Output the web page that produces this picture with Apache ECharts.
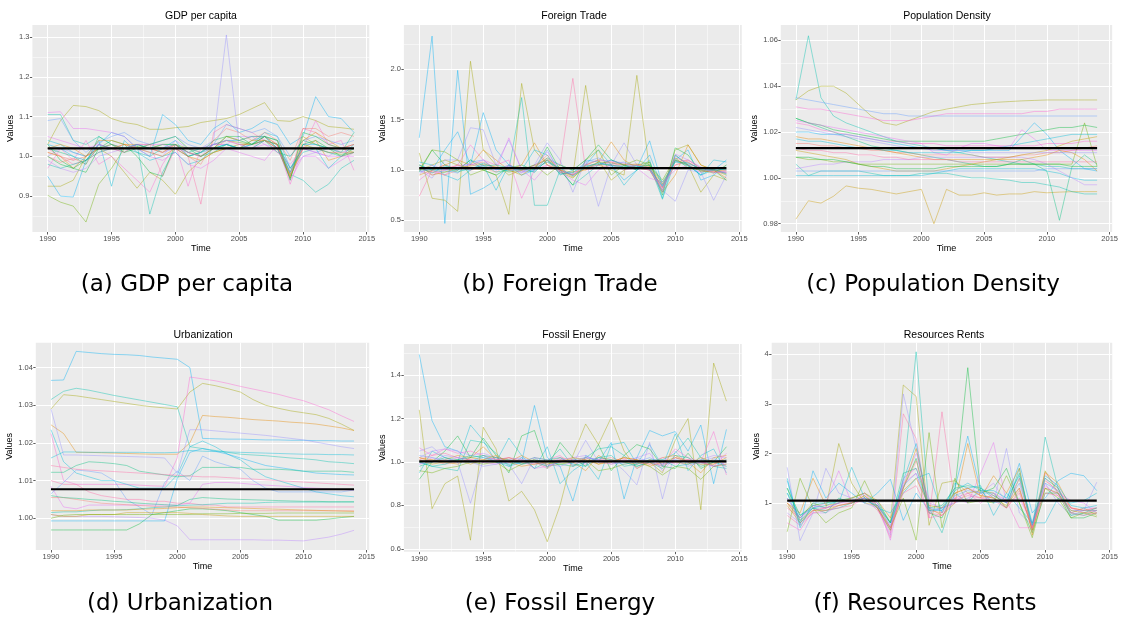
<!DOCTYPE html>
<html><head><meta charset="utf-8">
<script src="https://cdn.jsdelivr.net/npm/echarts@6/dist/echarts.min.js"></script>
<style>html,body{margin:0;padding:0;background:#fff}#c{width:1121px;height:617px}</style>
</head><body><div id="c"></div>
<script>
// ---------- shared ----------
const years = [1990,1991,1992,1993,1994,1995,1996,1997,1998,1999,2000,2001,2002,2003,2004,2005,2006,2007,2008,2009,2010,2011,2012,2013,2014];
const xTicks = [1990,1995,2000,2005,2010,2015];

// ---------- (a) GDP per capita ----------
const gdpTicks = [0.9,1.0,1.1,1.2,1.3];
const gdpMean = 1.02;
const gdp1 = [1.03,1.09,1.128,1.125,1.115,1.095,1.085,1.08,1.068,1.068,1.072,1.075,1.085,1.09,1.095,1.105,1.12,1.135,1.09,1.088,1.10,1.09,1.075,1.072,1.068];
const gdp2 = [0.902,0.885,0.875,0.835,0.93,0.97,1.02,1.025,1.02,1.03,1.03,1.02,1.01,1.03,1.04,1.035,1.03,1.04,1.02,0.955,1.03,1.02,1.01,1.005,1.01];
const gdp3 = [0.925,0.925,0.94,1.0,1.02,1.0,0.96,0.92,0.96,0.94,0.905,0.96,0.99,1.01,1.02,1.03,1.03,1.04,1.03,0.96,1.05,1.03,1.02,1.02,1.01];
const gdp4 = [1.0,1.02,1.01,1.0,1.03,1.02,1.01,1.03,1.02,1.01,1.02,1.02,1.02,1.04,1.305,1.03,1.02,1.04,1.03,0.97,1.02,1.01,1.02,1.01,1.02];
const gdp5 = [0.95,0.90,0.898,0.99,1.03,1.06,1.05,1.02,1.0,1.105,1.08,1.04,1.03,1.07,1.09,1.06,1.07,1.09,1.08,1.03,1.05,1.15,1.10,1.095,1.06];
const gdp6 = [1.105,1.105,1.04,1.03,1.05,1.03,1.02,1.03,0.855,0.96,1.02,1.0,1.01,1.02,1.03,1.02,1.04,1.05,1.04,0.955,0.94,0.91,0.93,0.97,0.99];
const gdp7 = [0.97,1.02,0.99,1.04,0.98,1.0,0.97,0.94,0.91,0.98,1.03,0.925,1.02,1.03,1.03,1.02,1.02,1.05,1.03,0.93,1.02,1.09,1.03,1.04,0.965];
const gdp8 = [1.02,1.0,0.98,0.99,1.01,1.02,1.03,1.02,1.03,0.95,1.02,1.0,0.88,1.06,1.08,1.07,1.06,1.04,1.02,0.95,1.07,1.06,1.03,1.02,1.03];
const gdp9 = [1.11,1.112,1.07,1.07,1.065,1.06,1.05,1.02,1.0,0.99,1.01,0.98,0.97,0.99,1.02,1.01,1.0,0.99,1.03,0.94,1.0,1.0,0.97,0.99,1.01];
const gdp10 = [1.03,0.99,0.97,0.96,1.02,1.04,1.03,1.0,0.96,0.95,1.03,1.0,1.01,1.04,1.05,1.04,1.03,1.05,1.02,0.945,1.03,1.04,1.02,1.0,1.02];
const gdp11 = [1.04,1.03,1.01,1.0,1.04,0.925,1.04,1.01,0.99,1.0,1.01,0.98,0.99,1.02,1.03,1.02,1.03,1.06,1.05,0.97,1.02,1.02,0.97,1.0,1.03];
const gdp12 = [1.01,1.0,0.97,1.0,1.02,1.02,1.03,1.03,1.02,1.01,1.03,1.01,1.0,1.02,1.05,1.04,1.05,1.05,1.03,0.95,1.02,1.04,0.99,1.0,1.01];
const gdp13 = [0.99,0.97,0.96,0.97,1.0,1.01,1.02,1.02,1.01,1.0,1.04,1.02,1.01,1.03,1.03,1.05,1.05,1.03,1.02,0.96,1.0,1.01,1.0,1.02,1.03];
const gdp14 = [1.09,1.095,1.04,1.01,1.035,1.05,1.06,1.04,1.03,1.04,1.05,1.03,1.02,1.03,1.08,1.07,1.06,1.07,1.05,1.00,1.04,1.05,1.04,1.03,1.04];
const gdp15 = [1.0,0.985,0.995,0.98,1.03,1.02,1.01,1.03,1.03,1.02,1.03,1.0,0.98,1.04,1.07,1.06,1.04,1.06,1.04,0.99,1.07,1.07,1.05,1.06,1.05];
const gdp16 = [1.02,1.01,1.0,0.98,1.05,1.03,1.02,1.03,1.02,1.03,1.03,1.01,1.0,1.01,1.03,1.02,1.02,1.04,1.01,1.0,1.04,1.03,1.02,1.01,1.06];
const gdp17 = [1.01,1.0,0.99,1.0,1.02,1.03,1.02,1.02,1.02,1.01,1.03,1.01,1.0,1.02,1.04,1.03,1.03,1.04,1.02,0.95,1.02,1.02,1.01,1.01,1.01];
const gdp18 = [1.03,1.02,1.0,0.99,1.03,1.02,1.02,1.03,1.02,1.02,1.04,1.0,1.01,1.03,1.04,1.04,1.05,1.05,1.02,0.96,1.03,1.03,1.02,1.02,1.02];
const gdp19 = [0.98,0.97,0.98,0.99,1.01,1.02,1.02,1.01,1.0,1.02,1.03,1.01,1.02,1.02,1.03,1.02,1.03,1.04,1.03,0.97,1.01,1.02,1.01,1.0,1.01];
const gdp20 = [1.02,1.03,1.02,1.0,1.04,1.04,1.03,1.02,1.01,1.0,1.02,1.0,0.99,1.01,1.02,1.02,1.04,1.04,1.03,0.945,1.04,1.06,1.04,1.02,1.03];
const gdp21 = [1.05,1.04,1.03,1.02,1.03,1.02,1.02,1.03,1.03,1.03,1.02,1.01,1.0,1.03,1.04,1.03,1.02,1.03,1.01,0.98,1.02,1.01,1.0,1.0,1.0];
const gdp22 = [1.0,0.98,0.97,0.99,1.02,1.03,1.01,1.02,1.03,1.04,1.05,1.02,1.0,1.02,1.05,1.05,1.03,1.05,1.04,0.94,1.06,1.05,1.03,1.02,1.02];

// ---------- (b) Foreign Trade ----------
const tradeTicks = [0.5,1.0,1.5,2.0];
const tradeMean = 1.02;
const tr1 = [1.32,2.33,0.47,1.99,0.76,0.82,0.90,1.05,1.00,0.98,1.10,1.00,0.95,1.02,1.05,1.10,1.05,1.02,1.29,0.85,1.10,1.05,0.95,1.00,1.10];
const tr2 = [1.17,0.72,0.70,0.59,2.08,1.20,1.05,0.95,1.00,1.05,1.10,1.00,0.95,1.84,1.05,1.00,0.95,1.94,1.00,0.80,1.15,1.05,0.78,0.95,0.90];
const tr3 = [1.00,1.05,1.10,1.05,1.02,1.00,0.95,0.56,1.86,1.20,1.05,0.98,0.92,1.05,1.10,0.90,1.00,1.05,1.08,0.78,1.20,1.25,1.05,1.00,0.95];
const tr4 = [1.05,1.00,0.98,1.00,1.10,1.05,0.98,1.00,1.72,0.65,0.65,1.00,0.85,0.95,1.05,1.10,1.05,1.00,1.05,0.71,1.10,1.05,0.95,1.02,1.00];
const tr5 = [0.74,1.00,1.05,1.02,1.00,1.05,1.02,1.00,0.98,1.05,1.10,1.05,1.91,1.00,1.02,1.05,1.05,1.02,1.00,0.85,1.05,1.08,1.00,0.98,0.97];
const tr6 = [1.05,1.00,1.20,1.38,1.05,1.57,1.20,1.05,0.95,1.00,1.12,1.05,1.00,1.10,1.08,1.05,0.90,1.00,1.15,0.83,1.10,1.20,0.90,0.95,1.05];
const tr7 = [1.00,0.92,1.10,1.10,1.42,1.40,1.05,1.30,1.00,1.05,1.27,1.10,0.78,1.10,0.64,1.05,1.27,1.05,1.00,0.80,0.69,1.00,0.98,0.70,0.95];
const tr8 = [0.98,1.20,1.05,1.00,1.10,1.00,0.95,1.02,1.05,1.00,1.23,1.00,0.85,1.10,1.25,1.10,1.05,1.00,1.08,0.75,1.22,1.15,0.98,1.00,0.90];
const tr9 = [0.90,1.00,0.95,1.05,1.25,1.10,1.05,1.10,0.72,1.00,1.05,1.00,0.95,1.05,1.05,1.08,1.02,1.05,1.00,0.82,1.08,1.10,1.02,0.98,1.00];
const tr10 = [0.95,1.00,1.05,1.10,1.05,1.20,1.10,1.00,1.05,1.27,1.05,1.00,0.98,1.00,1.08,1.28,1.10,1.02,1.00,0.78,0.95,1.25,1.05,1.00,0.92];
const tr11 = [1.08,1.05,0.95,0.90,1.00,1.05,0.80,1.05,1.00,1.20,1.15,0.95,1.00,1.05,1.20,1.05,0.85,1.00,1.10,0.72,1.15,1.05,0.95,1.10,1.08];
const tr12 = [1.00,0.95,1.00,1.05,1.05,1.10,1.00,1.32,1.00,0.90,1.05,0.98,0.90,0.85,1.00,1.05,1.00,1.02,0.92,0.88,1.00,1.05,0.98,1.00,0.97];
const tr13 = [1.02,0.98,1.00,1.05,1.00,1.02,0.98,1.05,1.00,1.02,1.08,1.00,0.95,1.02,1.05,1.05,1.02,1.05,1.02,0.83,1.05,1.10,1.02,1.00,0.98];
const tr14 = [1.00,1.20,1.18,1.10,0.95,1.00,1.02,0.98,1.00,1.05,0.95,1.05,1.00,1.10,1.20,0.95,1.05,1.10,1.05,0.90,1.12,1.02,1.00,0.97,1.05];
const tr15 = [1.02,0.98,0.95,1.00,1.05,1.08,1.02,1.03,1.00,1.02,1.15,0.98,0.95,1.05,1.10,1.08,1.06,1.05,1.03,0.82,1.12,1.08,1.00,0.98,0.98];
const tr16 = [0.98,1.02,1.00,0.97,1.08,1.10,1.00,1.05,0.98,1.00,1.20,0.97,0.97,1.08,1.12,1.06,1.08,1.04,1.02,0.78,1.14,1.06,1.02,1.00,0.97];
const tr17 = [1.05,0.95,0.98,1.02,1.04,1.06,1.03,1.00,0.95,1.03,1.12,1.00,0.93,1.02,1.08,1.07,1.05,1.06,1.04,0.86,1.10,1.05,0.99,0.99,1.00];
const tr18 = [1.00,1.00,1.02,0.98,1.02,1.04,1.05,1.02,1.02,0.98,1.10,0.96,0.98,1.04,1.06,1.05,1.03,1.03,1.05,0.88,1.08,1.07,1.01,1.01,0.96];
const tr19 = [0.96,1.05,1.00,1.03,1.06,1.03,1.00,1.04,0.97,1.04,1.18,0.99,0.96,1.06,1.10,1.09,1.07,1.02,1.00,0.80,1.16,1.10,1.03,0.97,0.99];
const tr20 = [1.03,0.97,1.04,1.00,1.00,1.07,1.01,0.99,1.01,1.01,1.08,1.02,0.94,1.03,1.07,1.04,1.04,1.04,1.01,0.84,1.09,1.04,1.00,1.00,1.01];

// ---------- (c) Population Density ----------
const popTicks = [0.98,1.00,1.02,1.04,1.06];
const popMean = 1.013;
const pop1 = [1.034,1.062,1.035,1.027,1.024,1.022,1.020,1.018,1.016,1.015,1.014,1.013,1.012,1.011,1.010,1.009,1.008,1.007,1.006,1.006,1.005,1.005,1.004,1.004,1.004];
const pop2 = [1.034,1.038,1.040,1.040,1.037,1.032,1.027,1.024,1.023,1.025,1.027,1.029,1.030,1.031,1.032,1.0325,1.033,1.0333,1.0336,1.0338,1.034,1.034,1.034,1.034,1.034];
const pop3 = [0.982,0.990,0.989,0.992,0.9965,0.9955,0.995,0.994,0.993,0.994,0.995,0.980,0.995,0.9925,0.9925,0.9935,0.9925,0.993,0.993,0.994,0.9935,0.9938,0.994,0.994,0.994];
const pop4 = [1.026,1.024,1.022,1.020,1.018,1.016,1.014,1.013,1.012,1.011,1.010,1.009,1.008,1.007,1.006,1.005,1.005,1.006,1.008,1.006,1.003,0.9815,1.005,1.010,1.006];
const pop5 = [1.009,1.008,1.008,1.007,1.007,1.006,1.006,1.006,1.006,1.006,1.006,1.006,1.006,1.006,1.006,1.006,1.006,1.006,1.006,1.006,1.006,1.006,1.006,1.024,1.005];
const pop6 = [1.020,1.020,1.019,1.019,1.019,1.018,1.017,1.016,1.015,1.014,1.013,1.013,1.012,1.012,1.012,1.012,1.012,1.012,1.018,1.024,1.019,1.012,1.008,1.004,1.003];
const pop7 = [1.031,1.030,1.030,1.029,1.028,1.027,1.026,1.025,1.025,1.025,1.026,1.027,1.028,1.028,1.028,1.028,1.028,1.028,1.028,1.029,1.029,1.030,1.030,1.030,1.030];
const pop8 = [1.035,1.034,1.033,1.032,1.031,1.030,1.029,1.028,1.028,1.027,1.027,1.027,1.027,1.027,1.027,1.027,1.027,1.027,1.027,1.027,1.027,1.027,1.027,1.027,1.027];
const pop9 = [1.026,1.024,1.023,1.021,1.020,1.019,1.018,1.017,1.016,1.016,1.016,1.016,1.016,1.016,1.016,1.016,1.017,1.018,1.019,1.020,1.021,1.022,1.022,1.023,1.022];
const pop10 = [1.015,1.015,1.014,1.014,1.013,1.013,1.012,1.012,1.011,1.011,1.010,1.010,1.010,1.010,1.010,1.009,1.009,1.009,1.010,1.010,1.011,1.011,1.012,1.013,1.014];
const pop11 = [1.025,1.024,1.023,1.022,1.021,1.020,1.019,1.018,1.017,1.016,1.015,1.011,1.010,1.013,1.015,1.015,1.014,1.013,1.021,1.017,1.012,1.012,1.012,1.012,1.012];
const pop12 = [1.018,1.017,1.017,1.016,1.015,1.014,1.013,1.012,1.011,1.010,1.009,1.008,1.008,1.008,1.008,1.008,1.008,1.008,1.008,1.009,1.010,1.012,1.011,1.008,1.003];
const pop13 = [1.006,1.001,1.003,1.003,1.003,1.003,1.002,1.001,1.001,1.001,1.002,1.002,1.002,1.001,1.000,1.000,0.9995,0.999,0.998,0.998,0.997,0.996,0.994,0.993,0.993];
const pop14 = [1.001,1.001,1.001,1.001,1.001,1.001,1.001,1.001,1.001,1.001,1.001,1.002,1.003,1.004,1.004,1.004,1.004,1.004,1.004,1.004,1.003,1.002,1.000,0.999,0.999];
const pop15 = [1.004,1.005,1.006,1.006,1.007,1.007,1.007,1.008,1.008,1.008,1.009,1.009,1.009,1.009,1.009,1.009,1.009,1.009,1.009,1.008,1.006,1.003,1.000,0.997,0.997];
const pop16 = [1.012,1.011,1.010,1.009,1.008,1.006,1.005,1.004,1.003,1.003,1.003,1.003,1.004,1.005,1.006,1.007,1.008,1.009,1.010,1.011,1.012,1.014,1.016,1.017,1.018];
const pop17 = [1.022,1.021,1.020,1.019,1.018,1.017,1.016,1.015,1.014,1.013,1.013,1.012,1.012,1.012,1.011,1.011,1.011,1.011,1.011,1.011,1.011,1.011,1.011,1.011,1.011];
const pop18 = [1.013,1.012,1.012,1.011,1.011,1.010,1.010,1.009,1.009,1.008,1.008,1.008,1.008,1.007,1.007,1.007,1.007,1.007,1.007,1.007,1.007,1.007,1.007,1.007,1.007];
const pop19 = [1.003,1.003,1.003,1.003,1.003,1.003,1.003,1.003,1.003,1.003,1.003,1.003,1.003,1.003,1.003,1.003,1.003,1.003,1.003,1.003,1.004,1.004,1.004,1.004,1.004];
const pop20 = [1.009,1.009,1.008,1.008,1.007,1.006,1.005,1.005,1.004,1.004,1.004,1.004,1.005,1.005,1.005,1.005,1.005,1.006,1.006,1.006,1.006,1.006,1.005,1.005,1.005];
const pop21 = [1.017,1.016,1.016,1.015,1.014,1.013,1.013,1.012,1.012,1.011,1.011,1.011,1.011,1.011,1.012,1.012,1.013,1.014,1.015,1.016,1.017,1.018,1.019,1.019,1.019];
const pop22 = [1.024,1.023,1.021,1.020,1.019,1.018,1.017,1.016,1.016,1.015,1.015,1.015,1.014,1.014,1.014,1.014,1.014,1.014,1.014,1.014,1.015,1.015,1.015,1.016,1.016];

// ---------- (d) Urbanization ----------
const urbTicks = [1.00,1.01,1.02,1.03,1.04];
const urbMean = 1.0077;
const urb1 = [1.0366,1.0367,1.0443,1.0440,1.0437,1.0435,1.0434,1.0432,1.0428,1.0425,1.0422,1.0400,1.0212,1.0211,1.0210,1.0210,1.0209,1.0208,1.0208,1.0207,1.0207,1.0206,1.0206,1.0205,1.0205];
const urb2 = [1.0315,1.0337,1.0345,1.0340,1.0333,1.0326,1.0320,1.0314,1.0308,1.0302,1.0296,1.0190,1.0185,1.0180,1.0175,1.0170,1.0168,1.0166,1.0163,1.0160,1.0158,1.0155,1.0150,1.0148,1.0145];
const urb3 = [1.0290,1.0328,1.0325,1.0320,1.0315,1.0310,1.0305,1.0300,1.0296,1.0293,1.0290,1.0335,1.0358,1.0352,1.0344,1.0335,1.0315,1.0300,1.0292,1.0285,1.0280,1.0275,1.0265,1.0250,1.0233];
const urb4 = [1.0225,1.0100,1.0090,1.0090,1.0090,1.0090,1.0090,1.0088,1.0086,1.0085,1.0160,1.0375,1.0370,1.0365,1.0358,1.0350,1.0343,1.0336,1.0329,1.0320,1.0312,1.0300,1.0288,1.0272,1.0257];
const urb5 = [1.0248,1.0225,1.0175,1.0175,1.0174,1.0173,1.0172,1.0171,1.0170,1.0170,1.0170,1.0200,1.0273,1.0270,1.0268,1.0265,1.0262,1.0260,1.0258,1.0255,1.0253,1.0250,1.0245,1.0240,1.0233];
const urb6 = [1.0290,1.0168,1.0168,1.0167,1.0166,1.0165,1.0164,1.0163,1.0162,1.0160,1.0120,1.0235,1.0235,1.0232,1.0229,1.0226,1.0223,1.0220,1.0216,1.0212,1.0208,1.0202,1.0196,1.0190,1.0185];
const urb7 = [1.0160,1.0176,1.0176,1.0175,1.0175,1.0175,1.0175,1.0175,1.0174,1.0174,1.0175,1.0180,1.0178,1.0177,1.0176,1.0175,1.0174,1.0173,1.0172,1.0171,1.0170,1.0170,1.0169,1.0169,1.0168];
const urb8 = [1.0235,1.0150,1.0120,1.0110,1.0100,1.0100,1.0090,1.0080,1.0080,1.0080,1.0115,1.0190,1.0205,1.0190,1.0170,1.0155,1.0130,1.0110,1.0100,1.0090,1.0080,1.0070,1.0065,1.0060,1.0057];
const urb9 = [1.0065,1.0095,1.0128,1.0125,1.0120,1.0100,1.0050,1.0030,1.0010,1.0095,1.0125,1.0100,1.0165,1.0150,1.0140,1.0130,1.0100,1.0080,1.0070,1.0070,1.0070,1.0070,1.0070,1.0070,1.0075];
const urb10 = [0.9969,0.9969,0.9969,0.9969,0.9969,0.9969,0.9969,0.9985,1.0010,1.0015,1.0020,1.0025,1.0025,1.0023,1.0020,1.0015,1.0010,1.0005,0.9995,0.9995,0.9995,0.9995,0.9998,1.0002,1.0005];
const urb11 = [1.0010,1.0005,1.0005,1.0005,1.0005,1.0004,1.0003,1.0002,1.0000,0.9995,0.9980,0.9943,0.9943,0.9943,0.9943,0.9943,0.9943,0.9942,0.9942,0.9941,0.9940,0.9945,0.9950,0.9958,0.9968];
const urb12 = [0.9993,0.9993,0.9993,0.9993,0.9993,0.9993,0.9993,0.9993,0.9993,0.9993,1.0105,1.0175,1.0185,1.0178,1.0170,1.0160,1.0150,1.0140,1.0135,1.0130,1.0125,1.0120,1.0118,1.0116,1.0115];
const urb13 = [1.0122,1.0122,1.0140,1.0150,1.0148,1.0145,1.0140,1.0125,1.0120,1.0115,1.0110,1.0113,1.0135,1.0135,1.0135,1.0135,1.0130,1.0130,1.0130,1.0128,1.0125,1.0125,1.0125,1.0125,1.0122];
const urb14 = [1.0100,1.0090,1.0090,1.0070,1.0060,1.0055,1.0050,1.0050,1.0045,1.0045,1.0040,1.0040,1.0035,1.0035,1.0030,1.0030,1.0030,1.0030,1.0030,1.0030,1.0030,1.0030,1.0030,1.0030,1.0030];
const urb15 = [1.0010,1.0005,1.0005,1.0010,1.0010,1.0010,1.0015,1.0015,1.0015,1.0015,1.0015,1.0013,1.0010,1.0008,1.0006,1.0005,1.0005,1.0005,1.0005,1.0005,1.0005,1.0005,1.0005,1.0005,1.0005];
const urb16 = [1.0085,1.0030,1.0025,1.0035,1.0035,1.0035,1.0035,1.0035,1.0035,1.0035,1.0035,1.0040,1.0090,1.0095,1.0095,1.0093,1.0090,1.0088,1.0086,1.0084,1.0082,1.0080,1.0078,1.0076,1.0075];
const urb17 = [1.0015,1.0017,1.0017,1.0020,1.0022,1.0022,1.0023,1.0025,1.0028,1.0030,1.0033,1.0035,1.0036,1.0038,1.0040,1.0040,1.0040,1.0042,1.0043,1.0043,1.0043,1.0043,1.0043,1.0043,1.0043];
const urb18 = [1.0055,1.0055,1.0050,1.0045,1.0040,1.0038,1.0036,1.0034,1.0032,1.0030,1.0030,1.0028,1.0026,1.0024,1.0022,1.0020,1.0020,1.0020,1.0020,1.0020,1.0020,1.0020,1.0020,1.0020,1.0020];
const urb19 = [1.0020,1.0020,1.0020,1.0022,1.0022,1.0022,1.0022,1.0024,1.0025,1.0026,1.0028,1.0030,1.0030,1.0029,1.0028,1.0027,1.0026,1.0025,1.0024,1.0023,1.0022,1.0021,1.0020,1.0019,1.0018];
const urb20 = [1.0140,1.0135,1.0130,1.0128,1.0126,1.0124,1.0122,1.0120,1.0118,1.0116,1.0114,1.0112,1.0110,1.0110,1.0108,1.0106,1.0104,1.0102,1.0100,1.0098,1.0096,1.0094,1.0092,1.0090,1.0088];
const urb21 = [1.0060,1.0055,1.0053,1.0050,1.0048,1.0045,1.0043,1.0040,1.0038,1.0036,1.0034,1.0050,1.0055,1.0053,1.0051,1.0050,1.0049,1.0048,1.0047,1.0046,1.0045,1.0045,1.0044,1.0044,1.0044];
const urb22 = [1.0000,1.0008,1.0010,1.0010,1.0010,1.0010,1.0010,1.0010,1.0010,1.0010,1.0010,1.0010,1.0012,1.0012,1.0012,1.0013,1.0013,1.0013,1.0014,1.0014,1.0014,1.0014,1.0014,1.0014,1.0014];

// ---------- (e) Fossil Energy ----------
const fosTicks = [0.6,0.8,1.0,1.2,1.4];
const fosMean = 1.003;
const fos1 = [1.495,1.19,1.07,1.05,1.00,1.03,1.00,0.98,1.00,1.26,1.02,0.98,0.82,1.03,1.00,1.09,0.83,1.02,1.145,1.12,1.14,1.05,1.17,0.90,1.15];
const fos2 = [1.24,0.785,0.90,0.935,0.64,1.16,1.06,0.82,0.865,0.78,0.633,0.80,1.03,1.175,1.08,1.205,1.05,0.97,1.00,0.95,1.10,1.20,0.78,1.455,1.28];
const fos3 = [0.95,1.05,1.02,1.00,1.17,1.10,1.00,1.11,1.03,0.97,1.07,0.90,0.96,1.00,0.92,1.08,1.09,0.99,1.08,0.98,1.13,0.96,1.03,1.06,0.95];
const fos4 = [1.05,1.07,1.02,1.00,0.81,1.01,1.02,0.99,0.90,1.02,0.98,1.02,0.99,1.10,1.00,1.01,0.96,0.895,1.09,0.83,1.05,0.99,1.00,0.98,1.00];
const fos5 = [0.92,1.00,1.05,1.12,1.02,1.11,1.03,0.95,1.12,1.145,0.97,1.09,1.02,0.98,1.08,0.96,1.03,1.08,1.06,0.98,0.97,1.04,0.97,1.00,1.07];
const fos6 = [1.00,0.98,0.97,0.96,1.10,1.09,1.04,0.98,1.02,0.97,1.00,1.06,0.98,1.02,1.06,1.07,1.03,0.98,1.00,1.01,1.04,1.11,1.02,0.98,0.97];
const fos7 = [1.065,1.03,1.06,1.04,1.05,1.03,1.01,1.02,1.00,1.02,1.01,1.03,0.98,1.02,1.01,1.00,1.02,0.97,1.01,0.99,1.06,1.02,1.00,1.14,0.94];
const fos8 = [1.02,1.00,1.01,1.03,1.02,1.07,1.01,1.00,1.03,1.00,0.99,1.01,1.00,0.96,1.03,1.00,1.02,1.01,0.99,1.02,1.03,1.00,0.95,1.02,1.03];
const fos9 = [1.00,1.01,0.99,1.00,1.01,1.00,1.02,1.01,1.00,0.99,1.00,1.02,1.01,1.00,1.01,1.02,1.00,1.01,1.00,0.98,1.02,1.01,1.00,0.99,1.01];
const fos10 = [1.02,1.05,1.06,1.05,1.03,1.04,1.02,1.00,1.01,0.99,1.00,1.01,1.02,1.03,1.00,1.01,1.00,1.02,1.04,0.96,1.02,1.00,1.01,1.03,1.02];
const fos11 = [0.96,0.95,0.97,0.98,1.00,0.99,1.00,0.96,0.99,1.00,0.98,0.99,1.00,1.01,0.96,0.97,0.99,1.00,0.98,0.94,0.98,0.97,0.92,0.98,0.99];
const fos12 = [0.99,1.02,1.00,1.02,1.01,1.00,0.99,1.00,1.01,0.97,0.98,1.00,1.01,0.99,1.02,1.00,1.01,0.99,1.00,1.02,0.99,1.01,1.00,0.98,1.04];
const fos13 = [1.01,0.99,1.00,1.01,0.99,1.01,1.00,1.02,1.00,1.01,0.99,1.00,1.00,1.02,0.99,1.01,1.00,0.99,1.01,1.00,1.00,0.99,1.02,1.00,1.00];
const fos14 = [1.03,1.02,1.01,1.00,1.00,1.02,1.01,1.00,0.99,1.00,0.98,1.00,1.01,1.02,1.01,1.00,0.99,1.00,1.02,0.99,1.01,1.00,0.99,1.01,1.00];
const fos15 = [0.98,1.00,1.02,1.01,1.02,1.03,1.02,1.01,0.99,1.01,1.00,0.99,0.98,1.00,1.02,1.01,1.00,0.98,1.00,0.97,1.03,1.02,0.98,1.00,0.98];
const fos16 = [1.01,1.03,1.04,1.02,1.01,1.00,1.01,1.02,1.01,1.00,0.97,1.01,1.00,1.01,1.00,0.99,1.01,1.00,0.99,0.99,1.00,1.01,1.00,0.98,0.99];
const fos17 = [1.00,0.98,0.99,1.01,1.03,1.02,1.00,0.99,1.00,1.02,1.01,1.02,0.99,0.98,1.02,1.03,0.98,0.99,1.01,1.01,0.98,0.99,1.01,1.00,1.01];
const fos18 = [1.02,1.01,1.00,0.99,1.02,1.01,1.03,1.00,0.98,0.99,1.00,1.00,1.02,1.01,0.99,1.00,1.02,1.01,0.98,1.00,1.02,1.00,0.99,0.99,1.02];
const fos19 = [0.99,1.00,1.03,1.02,1.00,0.98,0.99,1.01,1.02,1.00,0.99,0.98,1.00,1.02,1.01,0.99,1.00,1.02,1.00,0.98,1.01,0.98,1.00,1.02,0.98];

// ---------- (f) Resources Rents ----------
const resTicks = [1,2,3,4];
const resMean = 1.05;
const res1 = [1.2,0.6,0.9,0.85,0.9,1.0,1.1,0.9,0.45,1.5,4.05,0.9,0.4,1.2,1.0,1.3,1.1,0.9,1.7,0.45,2.33,1.3,0.8,0.75,0.85];
const res2 = [1.0,0.7,1.0,0.9,2.2,1.4,1.0,0.95,0.6,3.38,3.15,0.55,1.4,1.45,1.2,1.25,1.2,0.9,1.5,0.5,1.65,1.2,0.8,0.9,0.75];
const res3 = [1.72,0.24,0.8,1.7,1.2,1.1,1.0,0.9,0.35,3.2,2.1,0.8,0.9,1.0,1.1,1.2,1.0,2.1,0.8,0.55,1.4,1.0,0.75,0.85,1.42];
const res4 = [0.9,0.7,0.95,0.9,1.0,1.05,1.1,0.9,0.3,2.8,2.3,0.7,2.84,1.0,1.2,1.1,1.15,1.0,1.3,0.45,1.6,1.3,0.9,0.85,0.9];
const res5 = [1.3,0.75,0.95,1.0,1.05,1.1,1.2,1.0,0.6,1.3,1.9,0.8,0.7,1.25,3.73,1.2,1.3,1.7,1.0,0.4,1.2,1.2,0.7,0.7,0.8];
const res6 = [1.45,0.55,1.65,1.1,1.4,1.2,1.0,1.2,1.48,0.65,1.2,0.85,0.9,1.3,2.35,1.25,1.0,1.05,1.8,0.8,1.1,1.45,1.6,1.55,1.25];
const res7 = [0.8,0.6,0.8,0.8,0.95,1.0,1.1,1.0,0.5,1.4,2.0,1.0,0.9,1.0,1.3,1.2,1.4,1.0,1.5,0.5,1.3,1.2,0.8,0.9,0.9];
const res8 = [1.1,0.7,0.9,1.0,1.65,1.0,1.05,1.0,0.25,1.5,1.7,1.1,0.8,1.1,1.0,1.6,2.22,1.0,1.1,0.6,1.5,1.2,1.05,1.0,0.8];
const res9 = [1.0,0.8,1.5,0.95,1.0,1.1,1.2,1.05,0.7,1.3,2.1,0.9,0.75,1.0,2.2,1.1,1.55,1.2,1.7,0.35,1.62,1.4,0.9,0.85,0.85];
const res10 = [1.5,0.5,1.0,1.0,1.0,1.72,1.1,0.9,0.8,1.2,1.5,1.6,0.8,1.4,1.3,1.35,0.75,1.2,0.9,0.6,0.6,1.1,1.0,1.05,1.2];
const res11 = [0.42,1.5,0.9,0.6,0.8,0.9,1.45,0.9,0.5,1.1,0.25,2.42,0.5,1.5,1.0,1.05,1.0,1.55,1.0,0.3,1.3,1.1,0.7,0.8,0.72];
const res12 = [1.0,0.65,0.85,0.9,0.95,1.0,1.15,0.95,0.5,1.3,1.85,0.85,0.8,1.2,1.3,1.15,1.1,0.9,1.25,0.5,1.45,1.25,0.9,0.85,0.9];
const res13 = [1.3,0.65,0.9,0.8,1.1,1.0,1.1,1.05,0.6,1.6,1.7,0.9,0.95,1.3,1.35,1.3,1.15,1.0,1.6,0.55,1.5,1.3,0.75,0.8,0.9];
const res14 = [0.6,0.45,0.85,0.9,1.0,1.0,1.2,0.9,0.4,1.4,1.6,0.7,0.75,1.1,1.2,1.0,1.2,1.05,0.5,0.5,1.35,1.15,0.9,0.8,0.85];
const res15 = [1.1,0.7,0.95,0.9,1.0,1.05,1.1,0.95,0.55,1.35,1.6,0.9,0.85,1.15,1.25,1.2,1.2,1.0,1.4,0.55,1.4,1.25,0.85,0.85,0.85];
const res16 = [0.95,0.6,0.85,0.85,0.95,1.0,1.15,0.9,0.45,1.25,1.5,0.95,0.9,1.2,1.3,1.15,1.1,0.95,1.3,0.45,1.3,1.2,0.85,0.8,0.8];
const res17 = [1.2,0.75,0.9,0.95,1.05,1.05,1.05,0.95,0.6,1.45,2.2,0.85,0.85,1.25,1.4,1.25,1.25,1.1,1.55,0.6,1.55,1.35,0.95,0.9,0.95];
const res18 = [0.75,0.55,0.8,0.85,0.9,0.95,1.1,0.85,0.5,1.2,1.35,0.8,0.75,1.05,1.15,1.1,1.05,0.9,1.2,0.5,1.2,1.15,0.8,0.75,0.8];

// ---------- styles / layout ----------
const hue = {red:'#F8766D',orange:'#E58700',gold:'#C99800',olive:'#A3A500',ygreen:'#6BB100',green:'#00BA38',
  green2:'#00BF7D',teal:'#00C0AF',cyan:'#00BCD8',blue:'#00B0F6',blue2:'#619CFF',lav:'#9590FF',violet:'#B983FF',
  magenta:'#E76BF3',pink:'#FD61D1',salmon:'#FF67A4'};

const panels = [
  {title:'GDP per capita', caption:'(a) GDP per capita', capX:187, capY:285, titleX:201, titleY:16,
   grid:{left:32.4,top:25,width:336.9,height:207}, ymin:0.81, ymax:1.33, ticks:gdpTicks, dec:1, mean:gdpMean, nameGap:13, xNameGap:10,
   series:[[gdp1,'olive'],[gdp2,'ygreen'],[gdp3,'olive'],[gdp4,'lav'],[gdp5,'blue'],[gdp6,'teal'],[gdp7,'pink'],[gdp8,'salmon'],
           [gdp9,'magenta'],[gdp10,'green'],[gdp11,'cyan'],[gdp12,'orange'],[gdp13,'violet'],[gdp14,'blue2'],[gdp15,'red'],[gdp16,'green2'],
           [gdp17,'red'],[gdp18,'blue'],[gdp19,'teal'],[gdp20,'orange'],[gdp21,'magenta'],[gdp22,'green']]},
  {title:'Foreign Trade', caption:'(b) Foreign Trade', capX:560, capY:285, titleX:574, titleY:16,
   grid:{left:403.9,top:25,width:337.9,height:207}, ymin:0.385, ymax:2.44, ticks:tradeTicks, dec:1, mean:tradeMean, nameGap:13, xNameGap:10,
   series:[[tr1,'blue'],[tr2,'olive'],[tr3,'olive'],[tr4,'teal'],[tr5,'salmon'],[tr6,'blue'],[tr7,'lav'],[tr8,'green'],
           [tr9,'pink'],[tr10,'orange'],[tr11,'cyan'],[tr12,'magenta'],[tr13,'red'],[tr14,'ygreen'],
           [tr15,'red'],[tr16,'blue2'],[tr17,'gold'],[tr18,'green2'],[tr19,'violet'],[tr20,'cyan']]},
  {title:'Population Density', caption:'(c) Population Density', capX:933, capY:285, titleX:947, titleY:16,
   grid:{left:780.8,top:25,width:333.4,height:207}, ymin:0.9764, ymax:1.0667, ticks:popTicks, dec:2, mean:popMean, nameGap:17, xNameGap:10,
   series:[[pop1,'teal'],[pop2,'olive'],[pop3,'gold'],[pop4,'green2'],[pop5,'ygreen'],[pop6,'blue'],[pop7,'pink'],[pop8,'blue2'],
           [pop9,'green'],[pop10,'red'],[pop11,'magenta'],[pop12,'orange'],[pop13,'teal'],[pop14,'cyan'],[pop15,'violet'],[pop16,'gold'],
           [pop17,'lav'],[pop18,'salmon'],[pop19,'blue2'],[pop20,'green'],[pop21,'cyan'],[pop22,'pink']]},
  {title:'Urbanization', caption:'(d) Urbanization', capX:180, capY:604, titleX:203, titleY:335,
   grid:{left:35.8,top:342.7,width:333.4,height:207.3}, ymin:0.99158, ymax:1.0466, ticks:urbTicks, dec:2, mean:urbMean, nameGap:17, xNameGap:11,
   series:[[urb1,'blue'],[urb2,'teal'],[urb3,'olive'],[urb4,'pink'],[urb5,'orange'],[urb6,'lav'],[urb7,'cyan'],[urb8,'cyan'],
           [urb9,'blue2'],[urb10,'green'],[urb11,'violet'],[urb12,'blue'],[urb13,'green2'],[urb14,'salmon'],[urb15,'gold'],
           [urb16,'magenta'],[urb17,'teal'],[urb18,'red'],[urb19,'orange'],[urb20,'salmon'],[urb21,'green2'],[urb22,'ygreen']]},
  {title:'Fossil Energy', caption:'(e) Fossil Energy', capX:560, capY:604, titleX:574, titleY:335,
   grid:{left:403.9,top:344,width:337.9,height:207.7}, ymin:0.587, ymax:1.543, ticks:fosTicks, dec:1, mean:fosMean, nameGap:13, xNameGap:10,
   series:[[fos1,'blue'],[fos2,'olive'],[fos3,'cyan'],[fos4,'lav'],[fos5,'green'],[fos6,'teal'],[fos7,'pink'],[fos8,'orange'],
           [fos9,'red'],[fos10,'violet'],[fos11,'ygreen'],[fos12,'magenta'],[fos13,'gold'],
           [fos14,'blue2'],[fos15,'green2'],[fos16,'salmon'],[fos17,'teal'],[fos18,'orange'],[fos19,'lav']]},
  {title:'Resources Rents', caption:'(f) Resources Rents', capX:925, capY:604, titleX:944, titleY:335,
   grid:{left:771.7,top:342.7,width:342.6,height:207.3}, ymin:0.052, ymax:4.234, ticks:resTicks, dec:0, mean:resMean, nameGap:8, xNameGap:11,
   series:[[res1,'teal'],[res2,'olive'],[res3,'lav'],[res4,'salmon'],[res5,'green'],[res6,'blue'],[res7,'violet'],[res8,'magenta'],
           [res9,'orange'],[res10,'cyan'],[res11,'ygreen'],[res12,'red'],[res13,'green2'],[res14,'pink'],
           [res15,'blue2'],[res16,'gold'],[res17,'cyan'],[res18,'salmon']]}
];

const XMIN = 1988.8, XMAX = 2015.2;
function minorOf(ticks, lo, hi){
  const out=[]; const step = ticks[1]-ticks[0];
  const first = ticks[0]-step/2;
  for (let v = first; v <= hi + 1e-9; v += step) { if (v >= lo - 1e-9) out.push(+v.toFixed(6)); }
  return out;
}

const grids=[], xAxes=[], yAxes=[], series=[], graphics=[];
const tickFont = {color:'#4D4D4D', fontSize:7.5, fontFamily:'Liberation Sans'};
panels.forEach((p,i)=>{
  grids.push(Object.assign({show:true, backgroundColor:'#EBEBEB', borderWidth:0, containLabel:false}, p.grid));
  xAxes.push({type:'value', gridIndex:i, min:XMIN, max:XMAX, name:'Time', nameLocation:'middle', nameGap:p.xNameGap,
    nameTextStyle:{fontSize:9, color:'#000', fontFamily:'Liberation Sans'},
    axisLine:{show:false}, splitLine:{show:false},
    axisTick:{show:true, length:2.5, customValues:xTicks, lineStyle:{color:'#333', width:0.8}},
    axisLabel:Object.assign({customValues:xTicks, margin:3, formatter:v=>String(v)}, tickFont)});
  yAxes.push({type:'value', gridIndex:i, min:p.ymin, max:p.ymax, name:'Values', nameLocation:'middle', nameGap:p.nameGap, nameRotate:90,
    nameTextStyle:{fontSize:9, color:'#000', fontFamily:'Liberation Sans'},
    axisLine:{show:false}, splitLine:{show:false},
    axisTick:{show:true, length:2.5, customValues:p.ticks, lineStyle:{color:'#333', width:0.8}},
    axisLabel:Object.assign({customValues:p.ticks, margin:3, formatter:v=>Number(v).toFixed(p.dec)}, tickFont)});
  // grid lines (major + minor) via markLine on the panel axes, kept beneath the data
  const xMinor = minorOf(xTicks, XMIN, XMAX), yMinor = minorOf(p.ticks, p.ymin, p.ymax);
  const mk = [];
  xMinor.forEach(v=>mk.push({xAxis:v, lineStyle:{color:'#fff', width:0.5, type:'solid'}}));
  yMinor.forEach(v=>mk.push({yAxis:v, lineStyle:{color:'#fff', width:0.5, type:'solid'}}));
  xTicks.forEach(v=>{ if(v<=XMAX) mk.push({xAxis:v, lineStyle:{color:'#fff', width:1.1, type:'solid'}}); });
  p.ticks.forEach(v=>mk.push({yAxis:v, lineStyle:{color:'#fff', width:1.1, type:'solid'}}));
  series.push({type:'line', xAxisIndex:i, yAxisIndex:i, z:1, silent:true, data:[[years[0], p.mean]], showSymbol:false,
    lineStyle:{opacity:0}, animation:false,
    markLine:{silent:true, z:1, symbol:'none', animation:false, label:{show:false}, data:mk}});
  p.series.forEach(([arr,col])=>{
    series.push({type:'line', xAxisIndex:i, yAxisIndex:i, z:2, showSymbol:false, silent:true, animation:false,
      data:years.map((y,k)=>[y, arr[k]]), lineStyle:{color:hue[col], width:1, opacity:0.42}});
  });
  series.push({type:'line', xAxisIndex:i, yAxisIndex:i, z:3, showSymbol:false, silent:true, animation:false,
    data:years.map(y=>[y, p.mean]), lineStyle:{color:'#000', width:2.2}});
  graphics.push({type:'text', x:p.titleX, y:p.titleY, style:{text:p.title, textAlign:'center', textVerticalAlign:'middle',
    fontSize:10.5, fontFamily:'Liberation Sans', fill:'#000'}});
  graphics.push({type:'text', x:p.capX, y:p.capY, style:{text:p.caption, textAlign:'center', textVerticalAlign:'middle',
    fontSize:23, fontFamily:'DejaVu Sans', fill:'#000'}});
});

const chart = echarts.init(document.getElementById('c'), null, {renderer:'canvas'});
chart.setOption({animation:false, backgroundColor:'#fff', grid:grids, xAxis:xAxes, yAxis:yAxes, series:series, graphic:graphics});
</script></body></html>
